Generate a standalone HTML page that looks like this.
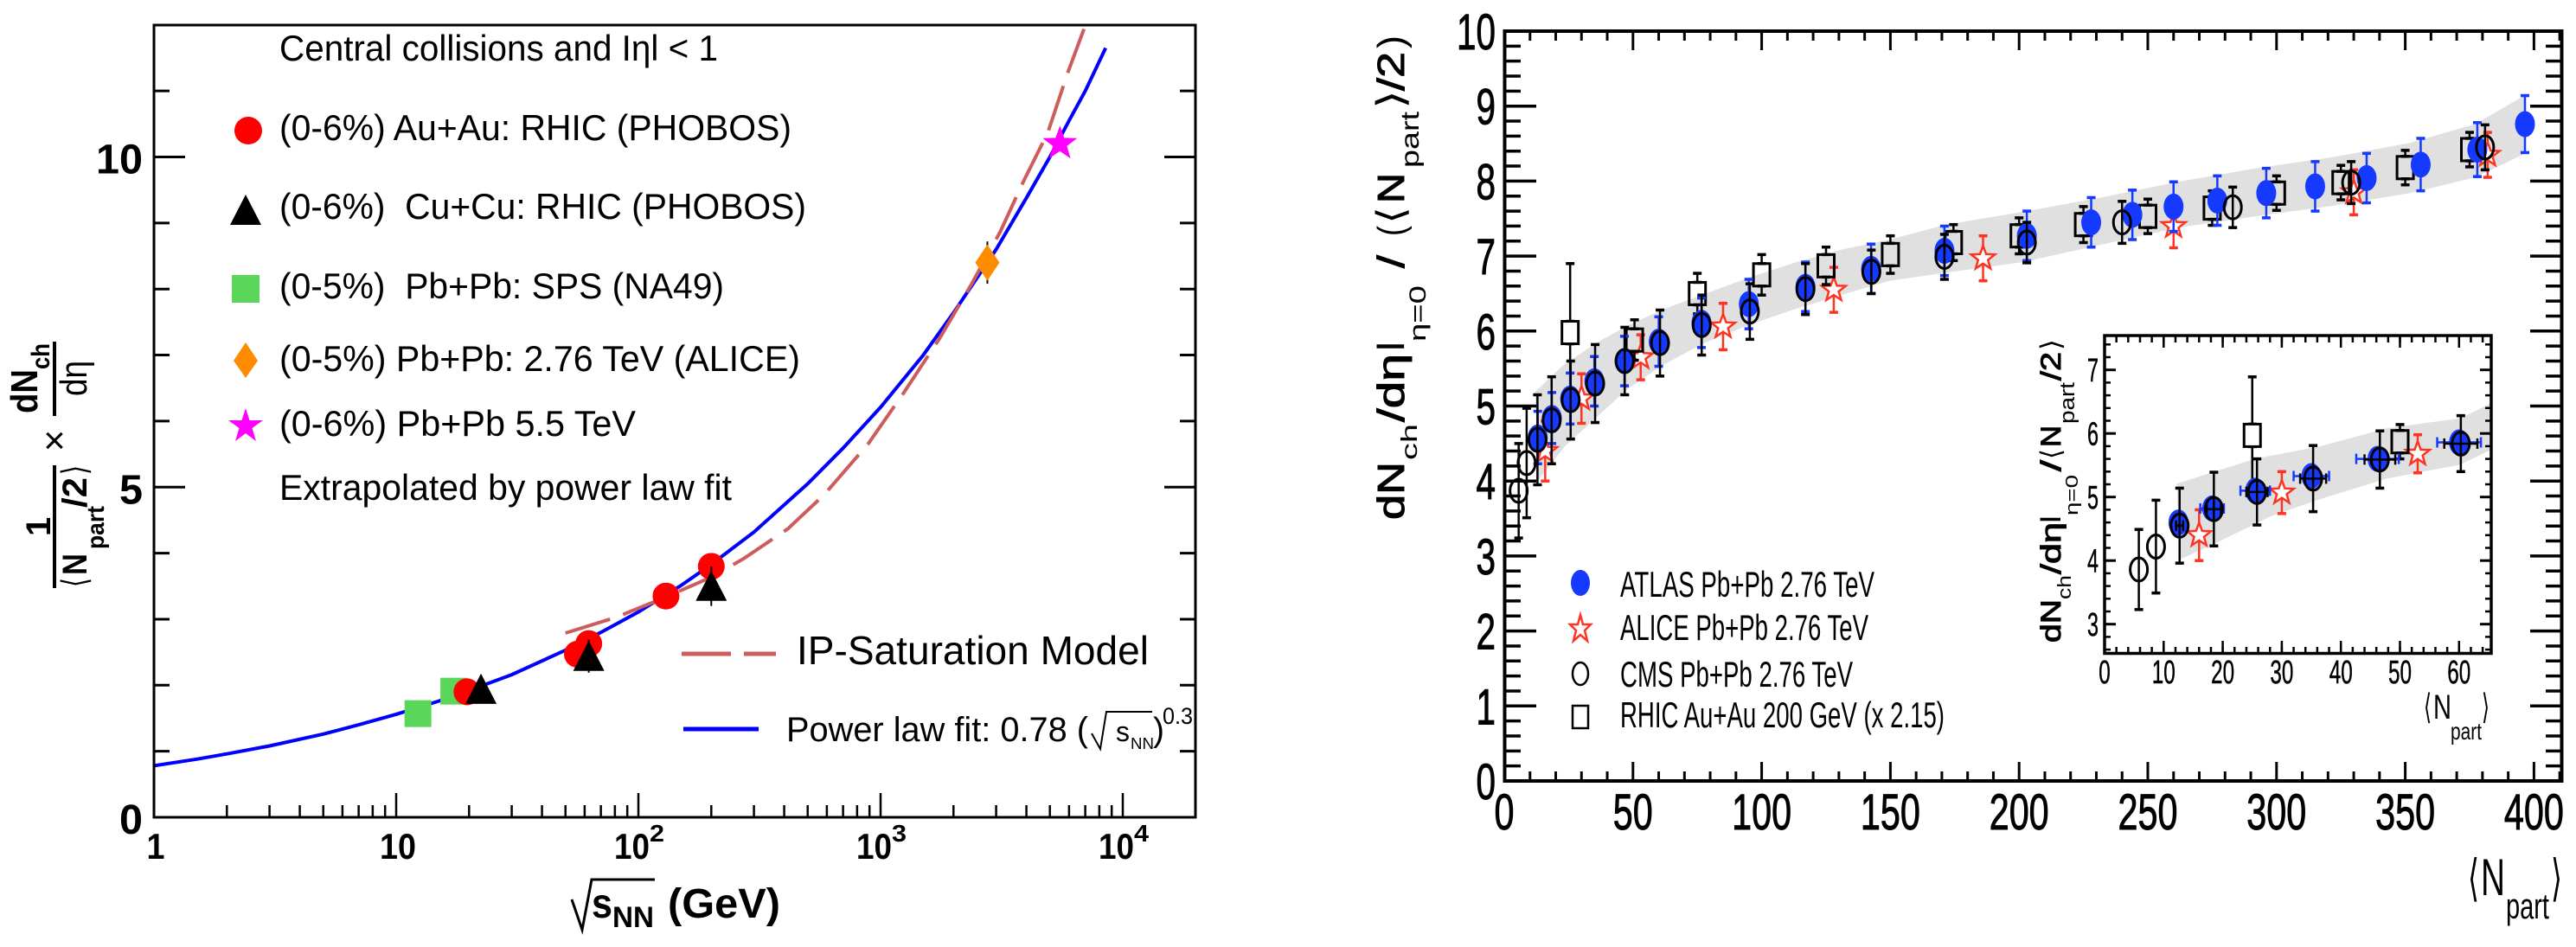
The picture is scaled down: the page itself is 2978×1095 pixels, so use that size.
<!DOCTYPE html>
<html lang="en">
<head>
<meta charset="utf-8">
<title>Charged particle multiplicity charts</title>
<style>
html,body{margin:0;padding:0;background:#fff;}
svg{display:block;font-family:"Liberation Sans",sans-serif;fill:#000;}
.b{font-weight:bold;}
.m{stroke:#000;stroke-width:1;}
.m2{stroke:#000;stroke-width:0.5;}
.br{font-family:"DejaVu Sans","Liberation Sans",sans-serif;}
</style>
</head>
<body>
<svg id="root" xmlns="http://www.w3.org/2000/svg" width="2978" height="1095" viewBox="0 0 2978 1095">
<defs>
<clipPath id="leftClip"><rect x="178" y="29" width="1204" height="916"/></clipPath>
</defs>

<g id="leftChart">
  <g id="leftCurves" clip-path="url(#leftClip)"></g>
  <g id="leftMarks"></g>
  <rect x="178" y="29" width="1204" height="916" fill="none" stroke="#000" stroke-width="3"/>
  <g id="leftAxes"></g>

  <g>
    <text class="b" transform="translate(43,478) rotate(-90)" font-size="44" textLength="51" lengthAdjust="spacingAndGlyphs">dN</text>
    <text class="b" transform="translate(57,427) rotate(-90)" font-size="30" textLength="30" lengthAdjust="spacingAndGlyphs">ch</text>
    <rect x="61" y="395" width="4" height="86"/>
    <text transform="translate(100,458) rotate(-90)" font-size="44" textLength="41" lengthAdjust="spacingAndGlyphs">dη</text>
    <text x="63" y="524" font-size="44" text-anchor="middle">×</text>
    <rect x="61" y="538" width="4" height="142"/>
    <text class="b" transform="translate(58,620) rotate(-90)" font-size="40">1</text>
    <text class="br" transform="translate(100,679) rotate(-90)" font-size="40" textLength="11" lengthAdjust="spacingAndGlyphs">⟨</text>
    <text class="b" transform="translate(100,665) rotate(-90)" font-size="40" textLength="25" lengthAdjust="spacingAndGlyphs">N</text>
    <text class="b" transform="translate(120,635) rotate(-90)" font-size="28" textLength="50" lengthAdjust="spacingAndGlyphs">part</text>
    <text class="b" transform="translate(100,587) rotate(-90)" font-size="40" textLength="35" lengthAdjust="spacingAndGlyphs">/2</text>
    <text class="br" transform="translate(100,549) rotate(-90)" font-size="40" textLength="11" lengthAdjust="spacingAndGlyphs">⟩</text>
  </g>

  <g>
    <polyline points="661,1040 673,1075 684,1017 757,1017" fill="none" stroke="#000" stroke-width="3"/>
    <text class="b" x="684" y="1061" font-size="48" textLength="24" lengthAdjust="spacingAndGlyphs">s</text>
    <text class="b" x="708" y="1072" font-size="34" textLength="48" lengthAdjust="spacingAndGlyphs">NN</text>
    <text class="b" x="772" y="1061" font-size="48" textLength="130" lengthAdjust="spacingAndGlyphs">(GeV)</text>
  </g>

  <g>
    <text x="323" y="70" font-size="42" textLength="507" lengthAdjust="spacingAndGlyphs">Central collisions and Iηl &lt; 1</text>
    <text x="323" y="162" font-size="42" textLength="592" lengthAdjust="spacingAndGlyphs">(0-6%) Au+Au: RHIC (PHOBOS)</text>
    <text x="323" y="253" font-size="42" textLength="609" lengthAdjust="spacingAndGlyphs" xml:space="preserve">(0-6%)  Cu+Cu: RHIC (PHOBOS)</text>
    <text x="323" y="345" font-size="42" textLength="514" lengthAdjust="spacingAndGlyphs" xml:space="preserve">(0-5%)  Pb+Pb: SPS (NA49)</text>
    <text x="323" y="429" font-size="42" textLength="602" lengthAdjust="spacingAndGlyphs">(0-5%) Pb+Pb: 2.76 TeV (ALICE)</text>
    <text x="323" y="504" font-size="42" textLength="412" lengthAdjust="spacingAndGlyphs">(0-6%) Pb+Pb 5.5 TeV</text>
    <text x="323" y="578" font-size="42" textLength="523" lengthAdjust="spacingAndGlyphs">Extrapolated by power law fit</text>
    <circle cx="287" cy="151" r="16" fill="#ff0000"/>
    <polygon points="284,225 266,260 302,260" fill="#000"/>
    <rect x="268" y="318" width="32" height="32" fill="#5ad65a"/>
    <polygon points="284,396 298,417 284,437 270,417" fill="#ff8c00"/>
    <polygon points="284,472 288.5,486 304,486 291.5,495 296,510 284,501 272,510 276.5,495 264,486 279.5,486" fill="#ff00ff"/>
    <line x1="788" y1="756" x2="845" y2="756" stroke="#cd5c5c" stroke-width="5"/>
    <line x1="860" y1="756" x2="897" y2="756" stroke="#cd5c5c" stroke-width="5"/>
    <text x="921" y="768" font-size="46" textLength="407" lengthAdjust="spacingAndGlyphs">IP-Saturation Model</text>
    <line x1="790" y1="843" x2="877" y2="843" stroke="#0000ff" stroke-width="5"/>
    <text x="909" y="857" font-size="40" textLength="349" lengthAdjust="spacingAndGlyphs">Power law fit: 0.78 (</text>
    <polyline points="1262,848 1272,866 1279,823 1332,823" fill="none" stroke="#000" stroke-width="2"/>
    <text x="1290" y="857" font-size="32">s</text>
    <text x="1307" y="866" font-size="18" textLength="27" lengthAdjust="spacingAndGlyphs">NN</text>
    <text x="1333" y="857" font-size="39">)</text>
    <text x="1344" y="837" font-size="27" textLength="35" lengthAdjust="spacingAndGlyphs">0.3</text>
  </g>
</g>

<g id="rightChart">
  <g id="mainBand"></g>
  <g id="mainMarks"></g>
  <rect x="1739.5" y="36" width="1222" height="867" fill="none" stroke="#000" stroke-width="4"/>
  <g id="mainAxes"></g>

  <g>
    <text class="m" transform="translate(1623,601) rotate(-90)" font-size="44" textLength="67" lengthAdjust="spacingAndGlyphs">dN</text>
    <text transform="translate(1638,532) rotate(-90)" font-size="26" textLength="42" lengthAdjust="spacingAndGlyphs">ch</text>
    <text class="m" transform="translate(1623,488) rotate(-90)" font-size="44" textLength="79" lengthAdjust="spacingAndGlyphs">/dη</text>
    <text class="b" transform="translate(1623,405) rotate(-90)" font-size="44" textLength="9" lengthAdjust="spacingAndGlyphs">l</text>
    <text transform="translate(1648,395) rotate(-90)" font-size="27" textLength="65" lengthAdjust="spacingAndGlyphs">η=0</text>
    <text class="m" transform="translate(1623,310) rotate(-90)" font-size="44" textLength="15" lengthAdjust="spacingAndGlyphs">/</text>
    <text transform="translate(1623,273) rotate(-90)" font-size="44" textLength="12" lengthAdjust="spacingAndGlyphs">(</text>
    <text class="br" transform="translate(1623,259) rotate(-90)" font-size="44" textLength="20" lengthAdjust="spacingAndGlyphs">⟨</text>
    <text class="m" transform="translate(1623,235) rotate(-90)" font-size="44" textLength="35" lengthAdjust="spacingAndGlyphs">N</text>
    <text transform="translate(1640,194) rotate(-90)" font-size="30" textLength="65" lengthAdjust="spacingAndGlyphs">part</text>
    <text class="br" transform="translate(1623,126) rotate(-90)" font-size="44" textLength="22" lengthAdjust="spacingAndGlyphs">⟩</text>
    <text class="m" transform="translate(1623,105) rotate(-90)" font-size="44" textLength="45" lengthAdjust="spacingAndGlyphs">/2</text>
    <text transform="translate(1623,56) rotate(-90)" font-size="44" textLength="15" lengthAdjust="spacingAndGlyphs">)</text>
  </g>

  <g>
    <text class="br" x="2853" y="1035" font-size="58" textLength="13" lengthAdjust="spacingAndGlyphs">⟨</text>
    <text x="2868" y="1035" font-size="60" textLength="28" lengthAdjust="spacingAndGlyphs">N</text>
    <text x="2897" y="1062" font-size="42" textLength="50" lengthAdjust="spacingAndGlyphs">part</text>
    <text class="br" x="2949" y="1035" font-size="58" textLength="13" lengthAdjust="spacingAndGlyphs">⟩</text>
  </g>

  <g>
    <ellipse cx="1827" cy="674" rx="11" ry="15" fill="#1539ff"/>
    <polygon points="1827,711 1830,722 1839,722 1832,729 1835,741 1827,734 1819,741 1822,729 1815,722 1824,722" fill="#fff" stroke="#ff3322" stroke-width="2.5"/>
    <ellipse cx="1827" cy="779" rx="9" ry="13" fill="none" stroke="#000" stroke-width="2.5"/>
    <rect x="1818" y="816" width="18" height="26" fill="none" stroke="#000" stroke-width="2.5"/>
    <text x="1873" y="690" font-size="42" textLength="294" lengthAdjust="spacingAndGlyphs">ATLAS Pb+Pb 2.76 TeV</text>
    <text x="1873" y="740" font-size="42" textLength="287" lengthAdjust="spacingAndGlyphs">ALICE Pb+Pb 2.76 TeV</text>
    <text x="1873" y="794" font-size="42" textLength="269" lengthAdjust="spacingAndGlyphs">CMS Pb+Pb 2.76 TeV</text>
    <text x="1873" y="841" font-size="42" textLength="375" lengthAdjust="spacingAndGlyphs">RHIC Au+Au 200 GeV (x 2.15)</text>
  </g>

  <g>
    <g id="insetBand"></g>
    <g id="insetMarks"></g>
    <rect x="2433" y="388" width="447" height="367.5" fill="none" stroke="#000" stroke-width="3.5"/>
    <g id="insetAxes"></g>
    <g>
      <text class="m" transform="translate(2382,743) rotate(-90)" font-size="32" textLength="50" lengthAdjust="spacingAndGlyphs">dN</text>
      <text transform="translate(2394,693) rotate(-90)" font-size="22" textLength="28" lengthAdjust="spacingAndGlyphs">ch</text>
      <text class="m" transform="translate(2382,664) rotate(-90)" font-size="32" textLength="60" lengthAdjust="spacingAndGlyphs">/dη</text>
      <text class="b" transform="translate(2382,604) rotate(-90)" font-size="32" textLength="7" lengthAdjust="spacingAndGlyphs">l</text>
      <text transform="translate(2402,596) rotate(-90)" font-size="20" textLength="47" lengthAdjust="spacingAndGlyphs">η=0</text>
      <text class="m" transform="translate(2382,545) rotate(-90)" font-size="32" textLength="13" lengthAdjust="spacingAndGlyphs">/</text>
      <text class="br" transform="translate(2382,531) rotate(-90)" font-size="32" textLength="12" lengthAdjust="spacingAndGlyphs">⟨</text>
      <text class="m" transform="translate(2382,517) rotate(-90)" font-size="32" textLength="25" lengthAdjust="spacingAndGlyphs">N</text>
      <text transform="translate(2398,490) rotate(-90)" font-size="24" textLength="48" lengthAdjust="spacingAndGlyphs">part</text>
      <text class="m" transform="translate(2382,440) rotate(-90)" font-size="32" textLength="33" lengthAdjust="spacingAndGlyphs">/2</text>
      <text class="br" transform="translate(2382,405) rotate(-90)" font-size="32" textLength="13" lengthAdjust="spacingAndGlyphs">⟩</text>
    </g>
    <g>
      <text class="br" x="2802" y="831" font-size="40" textLength="9" lengthAdjust="spacingAndGlyphs">⟨</text>
      <text x="2813" y="831" font-size="40" textLength="21" lengthAdjust="spacingAndGlyphs">N</text>
      <text x="2833" y="855" font-size="28" textLength="36" lengthAdjust="spacingAndGlyphs">part</text>
      <text class="br" x="2869" y="831" font-size="40" textLength="9" lengthAdjust="spacingAndGlyphs">⟩</text>
    </g>
  </g>
</g>
</svg>

<script>
/* ---------- left chart data ---------- */
const fitEnergy = [1,1.5,2,3,5,7,10,15,20,30,50,70,100,150,200,300,500,700,1000,1500,2000,3000,4000,5000,6000,7000,8500];
const fitValue = [0.78,0.88,0.96,1.08,1.26,1.40,1.56,1.76,1.92,2.16,2.53,2.80,3.11,3.51,3.83,4.32,5.05,5.59,6.21,7.0,7.64,8.6,9.38,10.0,10.55,11.0,11.65];
const ipEnergy = [50,81,127,201,273,414,583,887,1247,1758,2380,3112,3890,4900,5930,7015];
const ipValue = [2.79,3.03,3.32,3.64,3.92,4.37,4.88,5.65,6.43,7.26,8.08,8.86,9.63,10.37,11.28,12.0];
const na49Energy = [12.3,17.3];
const na49Value = [1.57,1.91];
const auauEnergy = [19.6,56,62.4,130,200];
const auauValue = [1.9,2.47,2.63,3.35,3.8];
const cucuEnergy = [22.4,62.4,200];
const cucuValue = [1.94,2.44,3.5];
const cucuError = [0.1,0.25,0.3];
const aliceEnergy = [2760];
const aliceValue = [8.4];
const aliceError = [0.32];
const extrapEnergy = [5500];
const extrapValue = [10.2];
const leftYTicks = [0,5,10];
const leftYMinor = [1,2,3,4,6,7,8,9,11];
const leftXTicks = [1,10,100,1000,10000];
const leftXLabels = ['1','10','10','10','10'];
const leftXExponents = ['','','2','3','4'];
const leftXMinor = [2,3,4,5,6,7,8,9,20,30,40,50,60,70,80,90,200,300,400,500,600,700,800,900,2000,3000,4000,5000,6000,7000,8000,9000,20000];

/* ---------- main chart data ---------- */
const bandUpperN = [12,22.4,35.6,50,65.6,77.6,95.6,113.6,131.6,149.6,171.7,201.6,231.7,261.7,291.8,321.8,351.8,377.2,396.7];
const bandUpperV = [5.19,5.53,5.84,6.11,6.34,6.49,6.72,6.92,7.09,7.22,7.42,7.59,7.78,7.99,8.17,8.32,8.51,8.76,9.15];
const bandLowerN = [13.2,23.5,35.6,47.6,60.8,77.6,95.6,113.6,128.9,149.6,171.7,201.6,231.7,261.7,291.8,321.8,351.8,377.2,396.7];
const bandLowerV = [4.01,4.46,4.84,5.22,5.53,5.84,6.09,6.30,6.46,6.67,6.78,6.92,7.15,7.38,7.53,7.67,7.84,8.05,8.37];
const atlasN = [13,18.5,25.6,35,46.7,60,76.6,95,117,142.5,171,203,228,244,260,277,296,315,335,356,378,396.5];
const atlasV = [4.58,4.84,5.1,5.33,5.6,5.86,6.11,6.36,6.59,6.83,7.07,7.27,7.45,7.55,7.66,7.74,7.84,7.93,8.04,8.22,8.42,8.76];
const atlasE = [0.35,0.34,0.34,0.33,0.33,0.33,0.33,0.33,0.33,0.33,0.33,0.33,0.33,0.33,0.33,0.33,0.33,0.33,0.33,0.35,0.36,0.38];
const cmsN = [5.6,8.7,12.9,18.4,25.8,35.3,46.8,60.5,76.7,95.4,117,142.6,171,203,240,283,329,381];
const cmsV = [3.87,4.24,4.55,4.81,5.08,5.30,5.6,5.84,6.08,6.26,6.56,6.79,6.99,7.18,7.45,7.65,7.98,8.45];
const cmsE = [0.63,0.73,0.6,0.58,0.52,0.52,0.45,0.44,0.40,0.37,0.34,0.29,0.30,0.27,0.28,0.27,0.28,0.30];
const aliceN = [15.9,30,53,85,128,186,260,330,382];
const aliceV = [4.4,5.1,5.65,6.06,6.55,6.97,7.4,7.85,8.35];
const aliceE = [0.4,0.33,0.3,0.31,0.30,0.30,0.29,0.30,0.30];
const rhicN = [25.6,50.6,75,100,125,150,174.5,200,225,250,275,300,325,350,375];
const rhicV = [5.98,5.88,6.5,6.75,6.87,7.02,7.18,7.27,7.42,7.53,7.64,7.84,7.98,8.18,8.42];
const rhicE = [0.92,0.27,0.27,0.27,0.25,0.25,0.24,0.24,0.24,0.23,0.23,0.23,0.23,0.23,0.23];
const mainYTicks = [0,1,2,3,4,5,6,7,8,9,10];
const mainXTicks = [0,50,100,150,200,250,300,350,400];

/* ---------- inset data ---------- */
const insetBandUpperN = [12.2,25.4,36.6,47.8,60.2,65.5];
const insetBandUpperV = [5.21,5.60,5.80,6.08,6.24,6.48];
const insetBandLowerN = [12.8,18.7,28.2,36.6,47.8,60.2,65.5];
const insetBandLowerV = [4.02,4.27,4.70,4.97,5.29,5.51,5.75];
const insetCmsN = [5.8,8.7,12.7,18.5,25.8,35.3,46.6,60.3];
const insetCmsV = [3.86,4.22,4.55,4.81,5.08,5.29,5.59,5.84];
const insetCmsE = [0.63,0.73,0.59,0.58,0.52,0.52,0.45,0.44];
const insetCmsX = [0,0,0.6,1.2,1.8,2.2,2.6,2.8];
const insetAtlasN = [12.5,18.2,25.5,35,46.2,60];
const insetAtlasV = [4.6,4.82,5.1,5.33,5.6,5.86];
const insetAtlasX = [0.8,2,2.5,3,3.6,3.7];
const insetRhicN = [25,50];
const insetRhicV = [5.97,5.87];
const insetRhicE = [0.92,0.27];
const insetAliceN = [16,30,53];
const insetAliceV = [4.4,5.07,5.68];
const insetAliceE = [0.4,0.33,0.3];
const insetYTicks = [3,4,5,6,7];
const insetXTicks = [0,10,20,30,40,50,60];

/* ---------- axis functions ---------- */
const xLeft = s => 178 + Math.log10(s) * 280;
const yLeft = v => 945 - v * 76.35;
const xMain = n => 1739 + n * 2.976;
const yMain = v => 903 - v * 86.7;
const xInset = n => 2433 + n * 6.83;
const yInset = v => 721.7 - (v - 3) * 73.5;

const NS = 'http://www.w3.org/2000/svg';
const BLUE = '#1539ff', RED = '#ff3322';
function mk(tag, attrs, parent) {
  const el = document.createElementNS(NS, tag);
  for (const k in attrs) el.setAttribute(k, attrs[k]);
  parent.appendChild(el);
  return el;
}
const $ = id => document.getElementById(id);

/* straight tick */
function tick(parent, name, x1, y1, x2, y2, w) {
  const el = mk('line', {x1, y1, x2, y2, stroke: '#000', 'stroke-width': w}, parent);
  
  
}
/* fitted tick label */
function label(parent, name, str, x, y, size, len, cls, anchor) {
  const el = mk('text', {x, y, 'font-size': size, textLength: len, lengthAdjust: 'spacingAndGlyphs', 'text-anchor': anchor || 'start'}, parent);
  if (cls) el.setAttribute('class', cls);
  el.textContent = str;
  
  
}

/* ---------- left chart ---------- */
const pts = (xs, ys, fx, fy) => xs.map((x, i) => fx(x).toFixed(1) + ',' + fy(ys[i]).toFixed(1)).join(' ');

const fitLine = mk('polyline', {points: pts(fitEnergy, fitValue, xLeft, yLeft), fill: 'none', stroke: '#0000ff', 'stroke-width': 4}, $('leftCurves'));



const ipLine = mk('polyline', {points: pts(ipEnergy, ipValue, xLeft, yLeft), fill: 'none', stroke: '#cd5c5c', 'stroke-width': 4, 'stroke-dasharray': '54 16'}, $('leftCurves'));



na49Energy.forEach((s, i) => {
  const el = mk('rect', {x: xLeft(s) - 15.5, y: yLeft(na49Value[i]) - 15.5, width: 31, height: 31, fill: '#5ad65a'}, $('leftMarks'));
  
  
});
auauEnergy.forEach((s, i) => {
  const el = mk('circle', {cx: xLeft(s), cy: yLeft(auauValue[i]), r: 15.5, fill: '#ff0000'}, $('leftMarks'));
  
  
});
cucuEnergy.forEach((s, i) => {
  const cx = xLeft(s), cy = yLeft(cucuValue[i]);
  tick($('leftMarks'), 'phobos-cucu-error-bar', cx, yLeft(cucuValue[i] + cucuError[i]), cx, yLeft(cucuValue[i] - cucuError[i]), 2);
  const el = mk('polygon', {points: `${cx},${cy - 18} ${cx - 18},${cy + 17} ${cx + 18},${cy + 17}`, fill: '#000'}, $('leftMarks'));
  
  
});
aliceEnergy.forEach((s, i) => {
  const cx = xLeft(s), cy = yLeft(aliceValue[i]);
  tick($('leftMarks'), 'alice-error-bar', cx, yLeft(aliceValue[i] + aliceError[i]), cx, yLeft(aliceValue[i] - aliceError[i]), 2);
  const el = mk('polygon', {points: `${cx},${cy - 21} ${cx + 14},${cy} ${cx},${cy + 21} ${cx - 14},${cy}`, fill: '#ff8c00'}, $('leftMarks'));
  
  
});
function starPoints(cx, cy, R, r) {
  const p = [];
  for (let k = 0; k < 10; k++) {
    const a = -Math.PI / 2 + k * Math.PI / 5, q = k % 2 ? r : R;
    p.push((cx + q * Math.cos(a)).toFixed(1) + ',' + (cy + q * Math.sin(a)).toFixed(1));
  }
  return p.join(' ');
}
extrapEnergy.forEach((s, i) => {
  const el = mk('polygon', {points: starPoints(xLeft(s), yLeft(extrapValue[i]), 21, 8.5), fill: '#ff00ff'}, $('leftMarks'));
  
  
});

leftYTicks.forEach(v => {
  const y = yLeft(v);
  tick($('leftAxes'), 'left-y-major-tick', 178, y, 214, y, 3);
  tick($('leftAxes'), 'left-y-major-tick-right', 1346, y, 1382, y, 3);
  const str = String(v);
  label($('leftAxes'), 'left-y-tick-label', str, 165, y + 19, 48, str.length * 27, 'b', 'end');
});
leftYMinor.forEach(v => {
  const y = yLeft(v);
  tick($('leftAxes'), 'left-y-minor-tick', 178, y, 196, y, 3);
  tick($('leftAxes'), 'left-y-minor-tick-right', 1364, y, 1382, y, 3);
});
leftXTicks.forEach((s, i) => {
  const x = xLeft(s);
  if (i > 0) tick($('leftAxes'), 'left-x-major-tick', x, 945, x, 917, 2.5);
  const str = leftXLabels[i], exp = leftXExponents[i];
  if (exp) {
    label($('leftAxes'), 'left-x-tick-label', str, x - 28, 993, 42, 41, 'b');
    label($('leftAxes'), 'left-x-tick-exponent', exp, x + 13, 973, 28, 17, 'b');
  } else {
    label($('leftAxes'), 'left-x-tick-label', str, x + 2, 993, 42, str.length * 21, 'b', 'middle');
  }
});
leftXMinor.forEach(s => {
  const x = xLeft(s);
  if (x < 1380) tick($('leftAxes'), 'left-x-minor-tick', x, 945, x, 931, 2.5);
});

/* ---------- main + inset shared drawing ---------- */
function band(parent, name, un, uv, ln, lv, fx, fy) {
  const upper = un.map((n, i) => fx(n).toFixed(1) + ',' + fy(uv[i]).toFixed(1));
  const lower = ln.map((n, i) => fx(n).toFixed(1) + ',' + fy(lv[i]).toFixed(1)).reverse();
  const el = mk('polygon', {points: upper.concat(lower).join(' '), fill: '#e0e0e0'}, parent);
  
  
}
function errY(parent, name, x, y1, y2, color) {
  const s = mk('line', {x1: x, y1, x2: x, y2, stroke: color, 'stroke-width': 2.5}, parent);
  
  
  const a = mk('line', {x1: x - 5, y1, x2: x + 5, y2: y1, stroke: color, 'stroke-width': 3.5}, parent);
  
  
  const b = mk('line', {x1: x - 5, y1: y2, x2: x + 5, y2, stroke: color, 'stroke-width': 3.5}, parent);
  
  
}
function errX(parent, name, x1, x2, y, color) {
  const l = mk('line', {x1, y1: y, x2, y2: y, stroke: color, 'stroke-width': 2.5}, parent);
  
  
  [x1, x2].forEach(x => {
    const c = mk('line', {x1: x, y1: y - 6, x2: x, y2: y + 6, stroke: color, 'stroke-width': 2.5}, parent);
    
    
  });
}
function stars(parent, ns, vs, es, fx, fy) {
  ns.forEach((n, i) => {
    const x = fx(n);
    errY(parent, 'alice-error-bar', x, fy(vs[i] + es[i]), fy(vs[i] - es[i]), RED);
    const el = mk('polygon', {points: starPoints(x, fy(vs[i]), 14.5, 6), fill: '#fff', stroke: RED, 'stroke-width': 2.5}, parent);
    
    
  });
}
function squares(parent, ns, vs, es, fx, fy) {
  ns.forEach((n, i) => {
    const x = fx(n), y = fy(vs[i]);
    errY(parent, 'rhic-error-bar', x, fy(vs[i] + es[i]), y - 13, '#000');
    errY(parent, 'rhic-error-bar', x, y + 13, fy(vs[i] - es[i]), '#000');
    const el = mk('rect', {x: x - 9.5, y: y - 13, width: 19, height: 26, fill: i === 0 ? '#fff' : 'none', stroke: '#000', 'stroke-width': 3}, parent);
    
    
  });
}
function rings(parent, ns, vs, es, fx, fy) {
  ns.forEach((n, i) => {
    const x = fx(n);
    errY(parent, 'cms-error-bar', x, fy(vs[i] + es[i]), fy(vs[i] - es[i]), '#000');
    const el = mk('ellipse', {cx: x, cy: fy(vs[i]), rx: 10, ry: 13.5, fill: 'none', stroke: '#000', 'stroke-width': 3}, parent);
    
    
  });
}

/* ---------- main chart ---------- */
band($('mainBand'), 'main-band-area', bandUpperN, bandUpperV, bandLowerN, bandLowerV, xMain, yMain);
stars($('mainMarks'), aliceN, aliceV, aliceE, xMain, yMain);
squares($('mainMarks'), rhicN, rhicV, rhicE, xMain, yMain);
atlasN.forEach((n, i) => {
  const x = xMain(n);
  errY($('mainMarks'), 'atlas-error-bar', x, yMain(atlasV[i] + atlasE[i]), yMain(atlasV[i] - atlasE[i]), BLUE);
  const el = mk('ellipse', {cx: x, cy: yMain(atlasV[i]), rx: 11.5, ry: 15, fill: BLUE}, $('mainMarks'));
  
  
});
rings($('mainMarks'), cmsN, cmsV, cmsE, xMain, yMain);

mainYTicks.forEach(v => {
  const y = yMain(v);
  tick($('mainAxes'), 'main-y-major-tick', 1739.5, y, 1776, y, 3.5);
  tick($('mainAxes'), 'main-y-major-tick-right', 2925, y, 2961.5, y, 3.5);
  const str = String(v);
  label($('mainAxes'), 'main-y-tick-label', str, 1729, y + 21, 58, str.length * 22.5, 'm', 'end');
  if (v < 10) {
    for (let k = 1; k < 5; k++) {
      const ym = yMain(v + k * 0.2);
      tick($('mainAxes'), 'main-y-minor-tick', 1739.5, ym, 1758, ym, 3.5);
      tick($('mainAxes'), 'main-y-minor-tick-right', 2943, ym, 2961.5, ym, 3.5);
    }
  }
});
mainXTicks.forEach(v => {
  const x = xMain(v);
  tick($('mainAxes'), 'main-x-major-tick', x, 903, x, 881, 3);
  tick($('mainAxes'), 'main-x-major-tick-top', x, 36, x, 58, 3);
  const str = String(v);
  label($('mainAxes'), 'main-x-tick-label', str, x, 959, 58, str.length * 23, 'm', 'middle');
  for (let k = 1; k < 5; k++) {
    const xm = xMain(v + k * 10);
    if (xm < 2960) {
      tick($('mainAxes'), 'main-x-minor-tick', xm, 903, xm, 892, 3);
      tick($('mainAxes'), 'main-x-minor-tick-top', xm, 36, xm, 47, 3);
    }
  }
});

/* ---------- inset chart ---------- */
band($('insetBand'), 'inset-band-area', insetBandUpperN, insetBandUpperV, insetBandLowerN, insetBandLowerV, xInset, yInset);
stars($('insetMarks'), insetAliceN, insetAliceV, insetAliceE, xInset, yInset);
squares($('insetMarks'), insetRhicN, insetRhicV, insetRhicE, xInset, yInset);
insetAtlasN.forEach((n, i) => {
  const x = xInset(n), y = yInset(insetAtlasV[i]);
  errX($('insetMarks'), 'inset-atlas-x-error', xInset(n - insetAtlasX[i]), xInset(n + insetAtlasX[i]), y, BLUE);
  const el = mk('ellipse', {cx: x, cy: y, rx: 11.5, ry: 15, fill: BLUE}, $('insetMarks'));
  
  
});
insetCmsN.forEach((n, i) => {
  if (insetCmsX[i] > 0) {
    errX($('insetMarks'), 'inset-cms-x-error', xInset(n - insetCmsX[i]), xInset(n + insetCmsX[i]), yInset(insetCmsV[i]), '#000');
  }
});
rings($('insetMarks'), insetCmsN, insetCmsV, insetCmsE, xInset, yInset);

insetYTicks.forEach(v => {
  const y = yInset(v);
  tick($('insetAxes'), 'inset-y-major-tick', 2433, y, 2446, y, 3);
  tick($('insetAxes'), 'inset-y-major-tick-right', 2867, y, 2880, y, 3);
  label($('insetAxes'), 'inset-y-tick-label', String(v), 2426, y + 13.5, 38, 13, 'm2', 'end');
});
for (let v = 2.6; v < 7.5; v += 0.2) {
  const y = yInset(v);
  tick($('insetAxes'), 'inset-y-minor-tick', 2433, y, 2440, y, 2.5);
  tick($('insetAxes'), 'inset-y-minor-tick-right', 2873, y, 2880, y, 2.5);
}
insetXTicks.forEach(v => {
  const x = xInset(v);
  tick($('insetAxes'), 'inset-x-major-tick', x, 755.5, x, 741, 2.5);
  tick($('insetAxes'), 'inset-x-major-tick-top', x, 388, x, 402, 2.5);
  const str = String(v);
  label($('insetAxes'), 'inset-x-tick-label', str, x, 790, 38, str.length * 13.5, 'm2', 'middle');
});
for (let v = 2; v < 65; v += 2) {
  const x = xInset(v);
  tick($('insetAxes'), 'inset-x-minor-tick', x, 755.5, x, 748, 2.5);
  tick($('insetAxes'), 'inset-x-minor-tick-top', x, 388, x, 396, 2.5);
}
</script>
</body>
</html>
